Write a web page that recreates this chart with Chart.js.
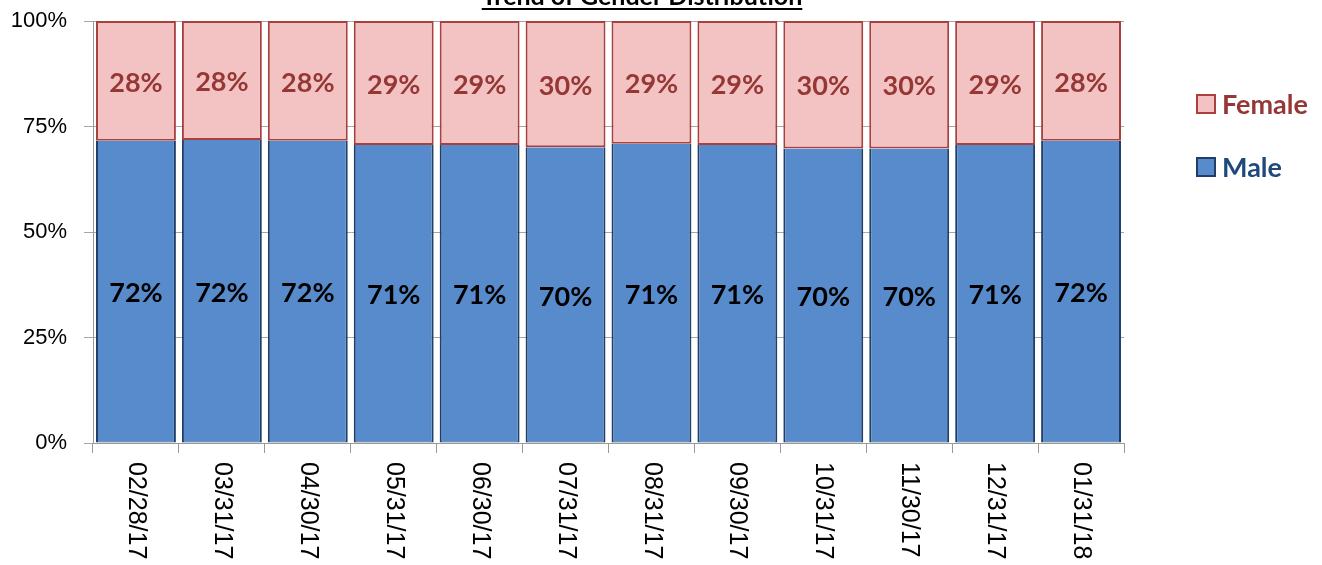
<!DOCTYPE html>
<html>
<head>
<meta charset="utf-8">
<script src="https://cdn.jsdelivr.net/npm/chart.js@4.4.1/dist/chart.umd.min.js"></script>
<style>
html, body { margin: 0; padding: 0; background: #fff; }
</style>
</head>
<body>
<canvas id="chart" width="1322" height="565"></canvas>
<script>
// month-end snapshots
const categories = ['02/28/17', '03/31/17', '04/30/17', '05/31/17', '06/30/17', '07/31/17',
                    '08/31/17', '09/30/17', '10/31/17', '11/30/17', '12/31/17', '01/31/18'];
const maleValues = [71.6, 71.8, 71.6, 70.6, 70.6, 70.1, 70.9, 70.6, 69.8, 69.8, 70.6, 71.6];
const femaleValues = [28.4, 28.2, 28.4, 29.4, 29.4, 29.9, 29.1, 29.4, 30.2, 30.2, 29.4, 28.4];
const yTicks = [0, 25, 50, 75, 100];
const chartTitle = 'Trend of Gender Distribution';

const maleFill = '#578BCB', maleEdge = '#1F3F68', maleText = '#1F497D';
const femaleFill = '#F3C3C3', femaleEdge = '#A8403E', femaleText = '#953735';

// value labels in the middle of each segment
const segmentLabels = {
    id: 'segmentLabels',
    afterDatasetsDraw(chart) {
        const ctx = chart.ctx;
        ctx.save();
        ctx.font = 'bold 27px Lato';
        ctx.textAlign = 'center';
        ctx.textBaseline = 'middle';
        chart.data.datasets.forEach((ds, i) => {
            ctx.fillStyle = i === 0 ? '#000' : femaleText;
            chart.getDatasetMeta(i).data.forEach((bar, j) => {
                const p = bar.getProps(['x', 'y', 'base'], true);
                ctx.fillText(Math.round(ds.data[j]) + '%', p.x, (p.y + p.base) / 2 + 2);
            });
        });
        ctx.restore();
    }
};

// title, rotated category labels, legend
const extras = {
    id: 'extras',
    afterDraw(chart) {
        const ctx = chart.ctx;
        const xs = chart.scales.x;
        ctx.save();

        ctx.fillStyle = '#000';
        ctx.font = 'bold 25px Lato';
        ctx.textAlign = 'center';
        ctx.textBaseline = 'alphabetic';
        ctx.fillText(chartTitle, 642, 5);
        const w = ctx.measureText(chartTitle).width;
        ctx.fillRect(642 - w / 2, 8, w, 2);

        ctx.font = '25px "Liberation Sans"';
        ctx.textAlign = 'left';
        ctx.textBaseline = 'middle';
        categories.forEach((c, i) => {
            const px = xs.getPixelForTick(i);
            ctx.save();
            ctx.translate(px, xs.top + 19);
            ctx.rotate(Math.PI / 2);
            ctx.fillText(c, 0, 0);
            ctx.restore();
        });

        const items = [
            { name: 'Female', fill: femaleFill, edge: femaleEdge, text: femaleText, y: 104 },
            { name: 'Male', fill: maleFill, edge: maleEdge, text: maleText, y: 167 }
        ];
        ctx.font = 'bold 27px Lato';
        items.forEach(it => {
            ctx.fillStyle = it.fill;
            ctx.fillRect(1197, it.y - 9, 18, 18);
            ctx.strokeStyle = it.edge;
            ctx.lineWidth = 2;
            ctx.strokeRect(1197, it.y - 9, 18, 18);
            ctx.fillStyle = it.text;
            ctx.fillText(it.name, 1222, it.y + 1);
        });
        ctx.restore();
    }
};

new Chart(document.getElementById('chart').getContext('2d'), {
    type: 'bar',
    data: {
        labels: categories,
        datasets: [{
            label: 'Male',
            data: maleValues,
            backgroundColor: maleFill,
            borderColor: maleEdge,
            borderWidth: { left: 2, right: 2, top: 0, bottom: 1 },
            borderSkipped: false
        }, {
            label: 'Female',
            data: femaleValues,
            backgroundColor: femaleFill,
            borderColor: femaleEdge,
            borderWidth: 2,
            borderSkipped: false
        }]
    },
    options: {
        responsive: false,
        animation: false,
        layout: { padding: { top: 21, right: 198, bottom: 0, left: 0 } },
        datasets: { bar: { barPercentage: 0.93, categoryPercentage: 1.0 } },
        plugins: {
            legend: { display: false },
            title: { display: false },
            tooltip: { enabled: false }
        },
        scales: {
            x: {
                stacked: true,
                afterFit(s) { s.height = 122; s.paddingLeft = 0; s.paddingRight = 0; },
                ticks: { display: false },
                grid: { offset: true, drawOnChartArea: false, tickLength: 10, color: '#999' },
                border: { color: '#999' }
            },
            y: {
                stacked: true,
                min: 0,
                max: 100,
                afterFit(s) { s.width = 93; s.paddingTop = 0; s.paddingBottom = 0; },
                afterBuildTicks(s) { s.ticks = yTicks.map(v => ({ value: v })); },
                ticks: {
                    padding: 17,
                    color: '#000',
                    font: { family: 'Liberation Sans', size: 22 },
                    callback: v => v + '%'
                },
                grid: { color: '#a6a6a6', tickLength: 9 },
                border: { color: '#999' }
            }
        }
    },
    plugins: [segmentLabels, extras]
});
</script>
</body>
</html>
